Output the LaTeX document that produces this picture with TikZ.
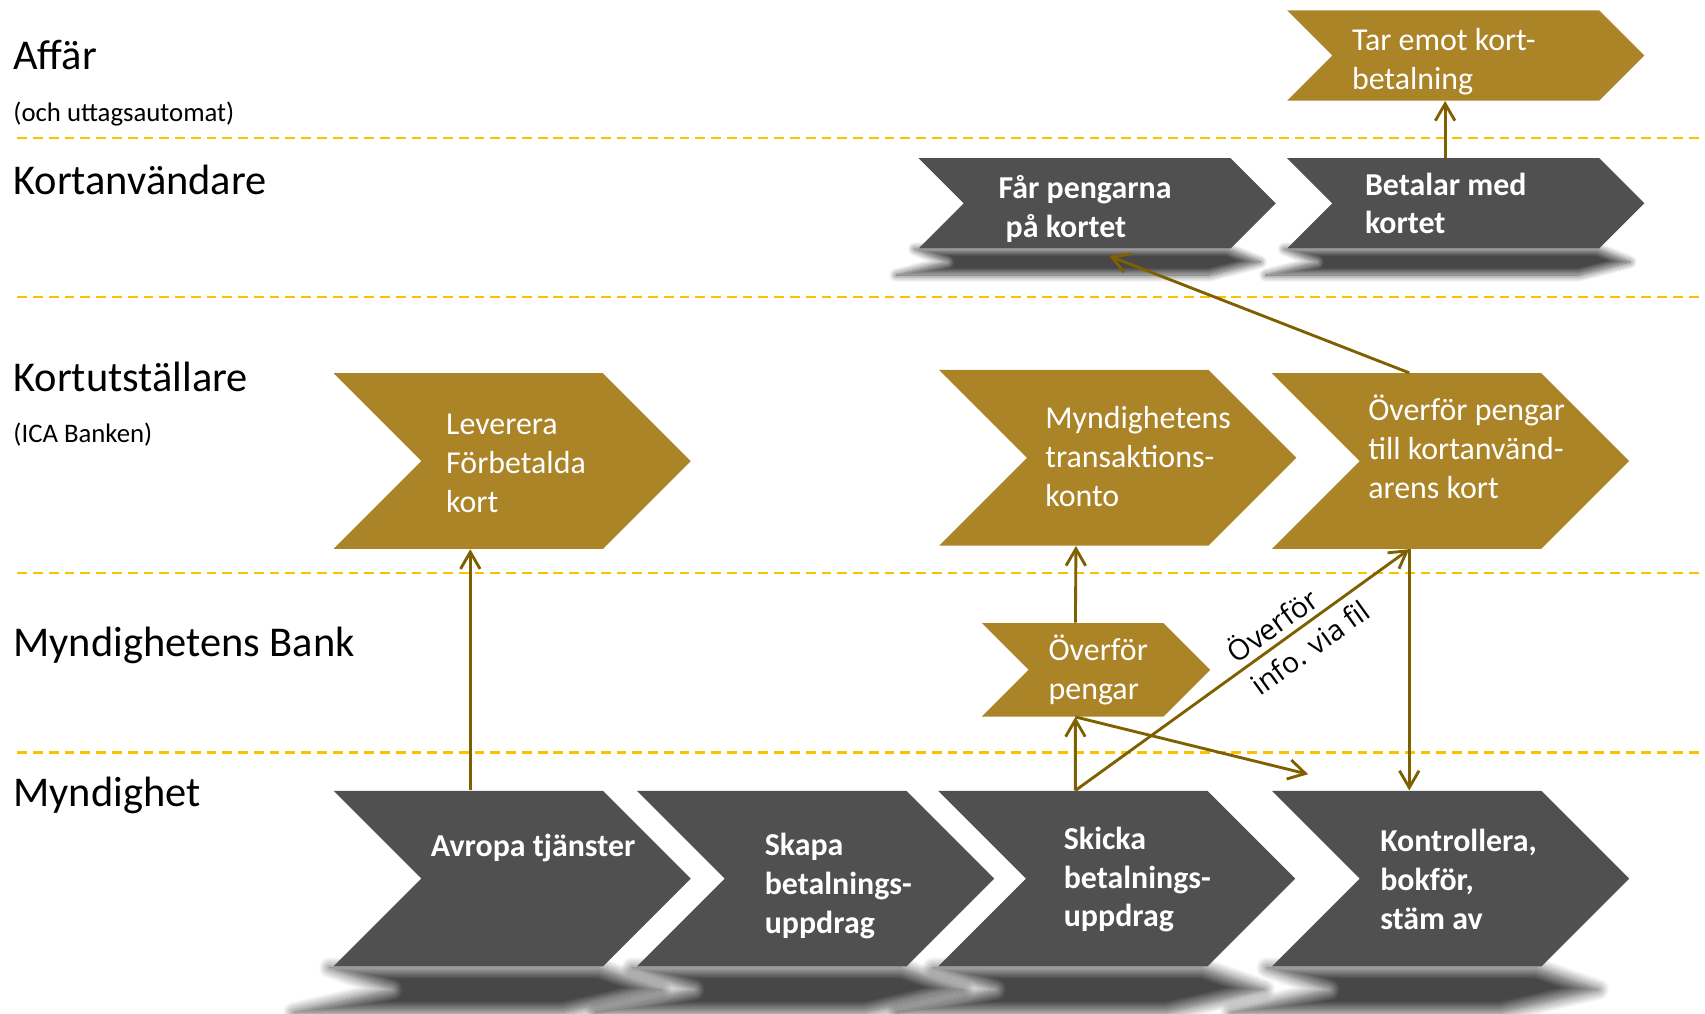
\documentclass[tikz,border=0pt]{standalone}
\usepackage{fontspec}
\setmainfont{Carlito}
\newfontfamily\notefont[Ligatures=NoCommon]{Open Sans}
\usetikzlibrary{shapes.symbols, arrows.meta, shadows.blur}

\definecolor{chevgold}{RGB}{171,132,40}
\definecolor{chevgray}{RGB}{80,80,80}
\definecolor{flowbrown}{RGB}{127,96,0}
\definecolor{lanegold}{RGB}{255,192,0}

\begin{document}
\begin{tikzpicture}[x=0.2mm, y=-0.2mm,
    chev/.style={shape=signal, signal from=west, signal to=east,
        signal pointer angle=90, inner sep=0pt, draw=none},
    bigchev/.style={chev, minimum width=65.7mm, minimum height=32.3mm},
    smallchev/.style={chev, minimum width=65.7mm, minimum height=16.6mm},
    goldchev/.style={fill=chevgold},
    graychev/.style={fill=chevgray},
    shade/.style={blur shadow={shadow xshift=0pt, shadow yshift=0pt,
        shadow opacity=72, shadow blur radius=#1, shadow blur steps=12}},
    chevtext/.style={anchor=west, inner sep=0pt, align=left, text=white,
        font=\fontsize{16.7}{20.3}\selectfont},
    boldtext/.style={chevtext, font=\fontsize{16.7}{20.3}\selectfont\bfseries},
    lane/.style={draw=lanegold, line width=1.2pt, dash pattern=on 1.8mm off 1.1mm},
    lanename/.style={anchor=base west, inner sep=0pt, font=\fontsize{22.2}{26}\selectfont},
    lanenote/.style={anchor=base west, inner sep=0pt, font=\fontsize{14}{16}\selectfont},
    infolabel/.style={sloped, align=left, inner sep=0pt, text=black,
        font=\notefont\fontsize{15}{20.8}\selectfont},
    flow/.style={draw=flowbrown, line width=1.5pt,
        -{Straight Barb[length=3.1mm, width=3.6mm]}}]

    \useasboundingbox (0,0) rectangle (1568,932);

    %----------------------
    % SWIM LANES
    %----------------------
    \draw[lane] (16,127) -- (1568,127);
    \draw[lane] (16,273) -- (1568,273);
    \draw[lane] (16,527) -- (1568,527);
    \draw[lane] (16,692) -- (1568,692);

    % Lane names
    \node[lanename] (affar) at (12,64) {Affär};
    \node[lanenote] (affarnote) at (12,112) {(och uttagsautomat)};
    \node[lanename] (kortanv) at (12,179) {Kortanvändare};
    \node[lanename] (kortutst) at (12,360) {Kortutställare};
    \node[lanenote] (kortutstnote) at (12,407) {(ICA Banken)};
    \node[lanename] (mbank) at (12,604) {Myndighetens Bank};
    \node[lanename] (myndighet) at (12,742) {Myndighet};

    %----------------------
    % SHADOWS (flattened chevrons under the gray steps)
    %----------------------
    \foreach \xl in {844,1184}
        \path[shade=1.3mm] (\xl-3,229) -- (\xl+285,229) -- (\xl+315,241)
            -- (\xl+268,253) -- (\xl-20,253) -- (\xl+27,241) -- cycle;
    \foreach \xl in {308,586,863,1170}
        \path[shade=2mm] (\xl-5,890) -- (\xl+243,890) -- (\xl+300,910)
            -- (\xl+210,931) -- (\xl-38,931) -- (\xl+52,910) -- cycle;

    %----------------------
    % AFFAR + KORTANVANDARE
    %----------------------
    \node[smallchev, goldchev] (tar) at (1348,51) {};
    \node[chevtext] (tar-t) at (1243,57) {Tar emot kort-\\betalning};

    \node[smallchev, graychev] (faar) at (1009,187) {};
    \node[boldtext] (faar-t) at (918,192) {Får pengarna\\\hspace*{1.3mm}på kortet};

    \node[smallchev, graychev] (betalar) at (1348,187) {};
    \node[boldtext] (betalar-t) at (1255,187) {Betalar med\\kortet};

    %----------------------
    % KORTUTSTALLARE
    %----------------------
    \node[bigchev, goldchev] (lever) at (471,424) {};
    \node[chevtext] (lever-t) at (410,426) {Leverera\\Förbetalda\\kort};

    \node[bigchev, goldchev] (mtk) at (1028,421) {};
    \node[chevtext] (mtk-t) at (961,420) {Myndighetens\\transaktions-\\konto};

    \node[bigchev, goldchev] (okort) at (1334,424) {};
    \node[chevtext] (okort-t) at (1258,411) {Överför pengar\\till kortanvänd-\\arens kort};

    %----------------------
    % MYNDIGHETENS BANK
    %----------------------
    \node[chev, goldchev, minimum width=42mm, minimum height=17.2mm] (openg) at (1008,616) {};
    \node[chevtext] (openg-t) at (964,616) {Överför\\pengar};

    %----------------------
    % MYNDIGHET
    %----------------------
    \node[bigchev, graychev] (avropa) at (471,808) {};
    \node[boldtext] (avropa-t) at (396,780) {Avropa tjänster};

    \node[bigchev, graychev] (skapa) at (750,808) {};
    \node[boldtext] (skapa-t) at (703,815) {Skapa\\betalnings-\\uppdrag};

    \node[bigchev, graychev] (skicka) at (1027,808) {};
    \node[boldtext] (skicka-t) at (978,809) {Skicka\\betalnings-\\uppdrag};

    \node[bigchev, graychev] (kontr) at (1334,808) {};
    \node[boldtext] (kontr-t) at (1269,809) {Kontrollera,\\bokför,\\stäm av};

    %----------------------
    % FLOWS
    %----------------------
    \coordinate (infoend) at (1203,712);

    \draw[flow] ([xshift=-7.7mm]avropa.north) -- ([xshift=-7.7mm]lever.south);
    \draw[flow] ([xshift=-3.8mm]betalar.north) -- ([xshift=-3.8mm]tar.south);
    \draw[flow] ([xshift=-7.6mm]skicka.north) -- ([xshift=-3.8mm]openg.south);
    \draw[flow] ([xshift=-3.8mm]openg.north) -- ([xshift=-7.7mm]mtk.south);
    \draw[flow] ([xshift=-3.8mm]openg.south) -- (infoend);
    % file transfer to the card issuer
    \draw[flow] ([xshift=-7.6mm]skicka.north)
        -- node[infolabel, pos=0.665] (info) {Överför\\info. via fil}
        ([xshift=-7.6mm]okort.south);
    \draw[flow] ([xshift=-7.6mm]okort.south) -- ([xshift=-7.6mm]kontr.north);
    \draw[flow] ([xshift=-7.6mm]okort.north) -- ([xshift=2.2mm, yshift=-1.3mm]faar.south);

\end{tikzpicture}
\end{document}
